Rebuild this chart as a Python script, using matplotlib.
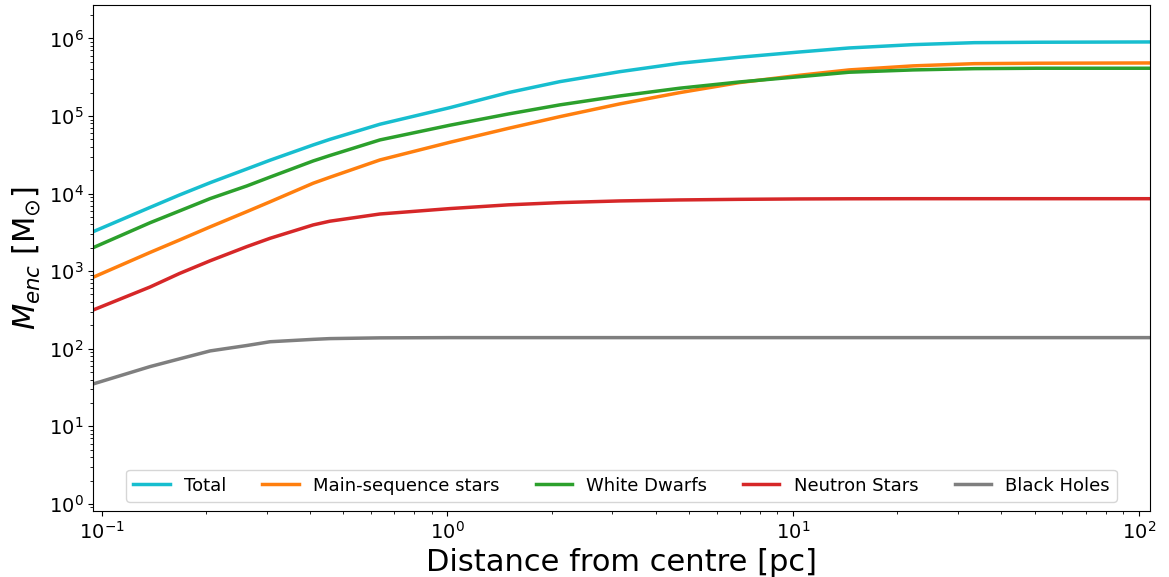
import numpy as np
from matplotlib import pyplot as plt

# radius grid [pc]
r = [0.0946, 0.138, 0.168, 0.206, 0.263, 0.307, 0.409, 0.457, 0.638, 1.017, 1.5,
     2.115, 3.15, 4.70, 6.98, 10.45, 14.5, 22.2, 33.4, 50.7, 107.5]

# enclosed mass per population [Msun]
m_total = [3230, 6620, 9590, 13800, 20750, 26900, 42300, 49900, 78200, 128000, 200000,
           277000, 372000, 478000, 571000, 668000, 752000, 830000, 880000, 891000, 899000]
m_ms = [835, 1740, 2520, 3720, 5850, 7830, 13580, 16200, 27100, 45800, 69200,
        98000, 143000, 200000, 269000, 335000, 392000, 442000, 472000, 478000, 482000]
m_wd = [2010, 4200, 5970, 8610, 12530, 16300, 26300, 30900, 49100, 76000, 106000,
        139000, 181000, 228000, 274000, 321000, 366000, 392000, 407000, 412000, 412000]
m_ns = [316, 624, 933, 1360, 2070, 2650, 3940, 4400, 5450, 6400, 7150,
        7640, 8030, 8270, 8420, 8520, 8560, 8580, 8580, 8580, 8580]
m_bh = [35.2, 58.8, 74, 93.7, 110, 123, 132, 135, 138, 139, 139,
        139, 139, 139, 139, 139, 139, 139, 139, 139, 139]

labels = ['Total', 'Main-sequence stars', 'White Dwarfs', 'Neutron Stars', 'Black Holes']
colors = ['tab:cyan', 'tab:orange', 'tab:green', 'tab:red', 'tab:gray']

fig = plt.figure(figsize=(11.69, 5.77), dpi=100)
ax = fig.add_axes([0.0798, 0.1144, 0.9039, 0.8769])

for m, lab, c in zip([m_total, m_ms, m_wd, m_ns, m_bh], labels, colors):
    ax.plot(r, m, color=c, lw=2.5, label=lab)

ax.set_xscale('log')
ax.set_yscale('log')
ax.set_xlim(0.0946, 107.5)
ax.set_ylim(0.81, 2.69e6)
ax.tick_params(labelsize=14)
ax.set_xlabel('Distance from centre [pc]', fontsize=22)
ax.set_ylabel(r'$M_{enc}$ [M$_{\odot}$]', fontsize=22)
ax.legend(loc='lower center', ncol=5, fontsize=13)

fig.savefig('out.png', dpi=100)
